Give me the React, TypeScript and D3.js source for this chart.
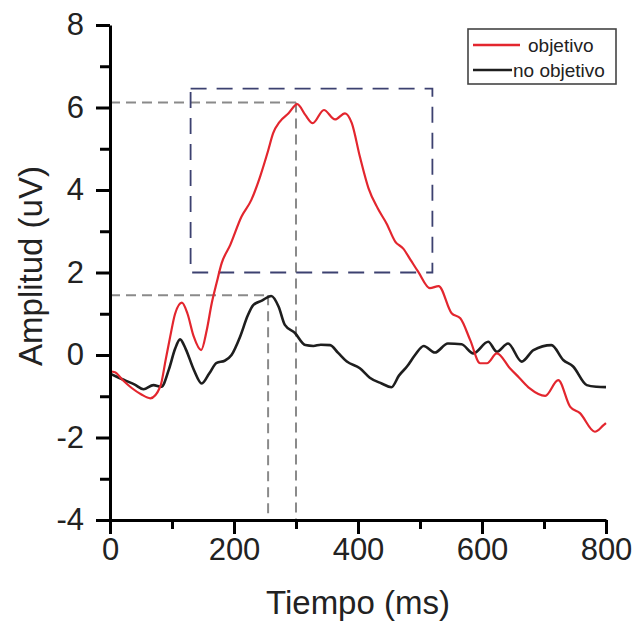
import * as d3 from "d3";
import { useEffect, useRef } from "react";

// objetivo (red)
const timeObj = [0, 8, 20, 35, 50, 65, 81, 90, 97, 105, 116, 125, 135, 147, 156, 164, 172, 180, 194, 212, 228, 242, 255, 263, 274, 288, 302, 315, 327, 345, 363, 379, 390, 403, 417, 432, 446, 460, 473, 485, 497, 516, 530, 551, 565, 581, 597, 608, 624, 645, 660, 677, 702, 723, 742, 758, 782, 796, 800];
const ampObj = [-0.4, -0.42, -0.6, -0.8, -0.95, -1.05, -0.77, -0.1, 0.44, 1.0, 1.27, 1.0, 0.45, 0.12, 0.6, 1.25, 1.75, 2.22, 2.67, 3.35, 3.76, 4.32, 4.95, 5.37, 5.66, 5.86, 6.08, 5.82, 5.62, 5.94, 5.71, 5.86, 5.62, 4.81, 4.04, 3.55, 3.19, 2.75, 2.58, 2.3, 2.02, 1.62, 1.67, 1.01, 0.89, 0.36, -0.2, -0.2, 0.04, -0.32, -0.55, -0.81, -0.99, -0.61, -1.25, -1.41, -1.86, -1.7, -1.65];

// no objetivo (black)
const timeNoObj = [0, 10, 25, 40, 54, 70, 83, 95, 105, 113, 122, 135, 148, 160, 172, 185, 196, 210, 222, 231, 245, 260, 272, 282, 298, 315, 328, 340, 355, 368, 382, 403, 419, 438, 454, 466, 479, 492, 506, 524, 545, 567, 586, 610, 624, 642, 664, 683, 712, 731, 747, 769, 785, 800];
const ampNoObj = [-0.45, -0.52, -0.62, -0.72, -0.83, -0.73, -0.77, -0.35, 0.15, 0.38, 0.15, -0.35, -0.69, -0.45, -0.19, -0.14, 0.0, 0.45, 0.95, 1.21, 1.32, 1.43, 1.17, 0.73, 0.54, 0.24, 0.22, 0.25, 0.24, 0.05, -0.16, -0.32, -0.55, -0.69, -0.78, -0.5, -0.28, 0.0, 0.22, 0.06, 0.28, 0.26, 0.04, 0.32, 0.08, 0.28, -0.16, 0.12, 0.24, -0.12, -0.28, -0.73, -0.77, -0.78];

const xTicks = [0, 200, 400, 600, 800];
const xMinor = [100, 300, 500, 700];
const yTicks = [-4, -2, 0, 2, 4, 6, 8];
const yMinor = [-3, -1, 1, 3, 5, 7];

const legendLabels = ["objetivo", "no objetivo"];
const colors = ["#e3262e", "#1e1e1e"];

// reference marks
const peakObj = { t: 300, v: 6.12 };
const peakNoObj = { t: 255, v: 1.45 };
const windowBox = { t0: 130, t1: 520, v0: 2, v1: 6.46 };

function App() {
  const ref = useRef<SVGSVGElement>(null);

  useEffect(() => {
    const svg = d3.select(ref.current);
    svg.selectAll("*").remove();

    const x = d3.scaleLinear().domain([0, 800]).range([110, 606]);
    const y = d3.scaleLinear().domain([-4, 8]).range([520, 25]);
    const font = "Liberation Sans, Arial, sans-serif";
    const plain = (d: any) => String(d);

    // dashed guides
    const guides = svg.append("g").attr("fill", "none").attr("stroke", "#8a8a8a").attr("stroke-width", 2).attr("stroke-dasharray", "10,6");
    guides.append("line").attr("x1", x(0)).attr("x2", x(peakObj.t)).attr("y1", y(peakObj.v)).attr("y2", y(peakObj.v));
    guides.append("line").attr("x1", x(peakObj.t)).attr("x2", x(peakObj.t)).attr("y1", y(peakObj.v)).attr("y2", y(-4));
    guides.append("line").attr("x1", x(0)).attr("x2", x(peakNoObj.t)).attr("y1", y(peakNoObj.v)).attr("y2", y(peakNoObj.v));
    guides.append("line").attr("x1", x(peakNoObj.t)).attr("x2", x(peakNoObj.t)).attr("y1", y(peakNoObj.v)).attr("y2", y(-4));

    svg.append("rect")
      .attr("x", x(windowBox.t0))
      .attr("y", y(windowBox.v1))
      .attr("width", x(windowBox.t1) - x(windowBox.t0))
      .attr("height", y(windowBox.v0) - y(windowBox.v1))
      .attr("fill", "none")
      .attr("stroke", "#3c4170")
      .attr("stroke-width", 1.8)
      .attr("stroke-dasharray", "16,10");

    // lines
    const line = d3.line<[number, number]>()
      .x((d) => x(d[0]))
      .y((d) => y(d[1]))
      .curve(d3.curveMonotoneX);

    const series = [
      timeNoObj.map((t, i) => [t, ampNoObj[i]] as [number, number]),
      timeObj.map((t, i) => [t, ampObj[i]] as [number, number]),
    ];
    svg.append("path").attr("d", line(series[0])).attr("fill", "none").attr("stroke", colors[1]).attr("stroke-width", 2.6);
    svg.append("path").attr("d", line(series[1])).attr("fill", "none").attr("stroke", colors[0]).attr("stroke-width", 2.2);

    // axes
    const styleAxis = (g: any, fontSize: number) => {
      g.select(".domain").attr("stroke", "#000").attr("stroke-width", 3);
      g.selectAll(".tick line").attr("stroke", "#000").attr("stroke-width", 3);
      g.selectAll(".tick text").attr("font-family", font).attr("font-size", fontSize).attr("fill", "#222");
    };

    const xAxis = svg.append("g").attr("transform", `translate(0,${y(-4)})`)
      .call(d3.axisBottom(x).tickValues(xTicks).tickFormat(plain).tickSize(14).tickSizeOuter(0).tickPadding(4));
    styleAxis(xAxis, 31);
    const xMin = svg.append("g").attr("transform", `translate(0,${y(-4)})`)
      .call(d3.axisBottom(x).tickValues(xMinor).tickSize(9).tickFormat(() => ""));
    styleAxis(xMin, 31);
    xMin.select(".domain").remove();

    const yAxis = svg.append("g").attr("transform", `translate(${x(0)},0)`)
      .call(d3.axisLeft(y).tickValues(yTicks).tickFormat(plain).tickSize(14).tickSizeOuter(0).tickPadding(12));
    styleAxis(yAxis, 31);
    const yMin = svg.append("g").attr("transform", `translate(${x(0)},0)`)
      .call(d3.axisLeft(y).tickValues(yMinor).tickSize(10).tickFormat(() => ""));
    styleAxis(yMin, 31);
    yMin.select(".domain").remove();

    // titles
    svg.append("text")
      .attr("x", (x(0) + x(800)) / 2)
      .attr("y", 614)
      .attr("text-anchor", "middle")
      .attr("font-family", font)
      .attr("font-size", 33)
      .attr("fill", "#222")
      .text("Tiempo (ms)");

    svg.append("text")
      .attr("transform", "translate(42,266) rotate(-90)")
      .attr("text-anchor", "middle")
      .attr("font-family", font)
      .attr("font-size", 33)
      .attr("fill", "#222")
      .text("Amplitud (uV)");

    // legend
    const legend = svg.append("g").attr("transform", "translate(468,29)");
    legend.append("rect").attr("width", 148).attr("height", 55).attr("fill", "#fff").attr("stroke", "#444").attr("stroke-width", 1.6);
    const rowY = [16, 41];
    const lineEnd = [52, 44];
    const textX = [60, 45];
    legendLabels.forEach((lab, i) => {
      legend.append("line").attr("x1", 5).attr("x2", lineEnd[i]).attr("y1", rowY[i]).attr("y2", rowY[i])
        .attr("stroke", colors[i]).attr("stroke-width", 2.5);
      legend.append("text").attr("x", textX[i]).attr("y", rowY[i] + 7)
        .attr("font-family", font).attr("font-size", 19).attr("fill", "#222").text(lab);
    });
  }, []);

  return (
    <svg ref={ref} width={638} height={622} style={{ position: "absolute", left: 0, top: 0, background: "#fff" }} />
  );
}

export default App;
